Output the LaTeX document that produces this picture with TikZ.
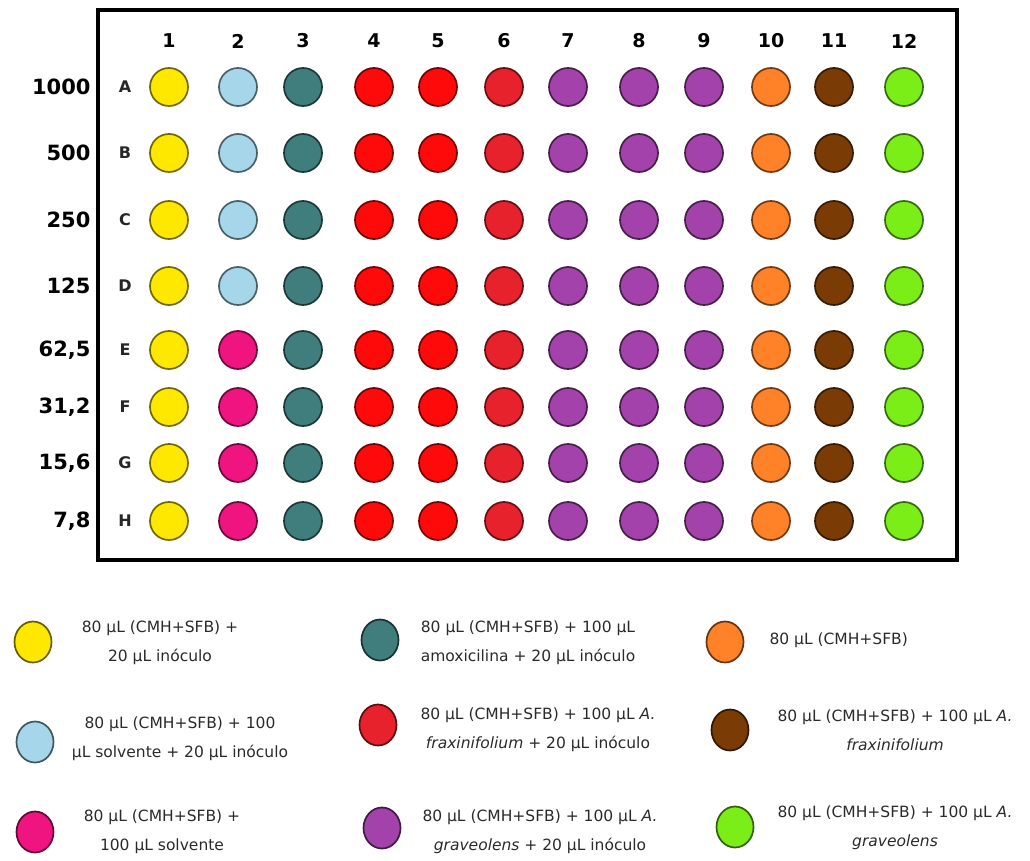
\documentclass[tikz,border=0pt]{standalone}
\usepackage{fontspec}
\setmainfont{DejaVu Sans}
\usetikzlibrary{shapes.geometric}

\definecolor{wellyellow}{HTML}{FFE800}
\definecolor{wellsky}{HTML}{A5D6EA}
\definecolor{wellteal}{HTML}{3F7E7C}
\definecolor{wellred}{HTML}{FF0A0A}
\definecolor{wellcrimson}{HTML}{E8222C}
\definecolor{wellpurple}{HTML}{A242AA}
\definecolor{wellorange}{HTML}{FF8228}
\definecolor{wellbrown}{HTML}{7B3B05}
\definecolor{welllime}{HTML}{7BEE18}
\definecolor{wellpink}{HTML}{F01480}
\definecolor{keyink}{HTML}{2A2A2A}

\begin{document}
\begin{tikzpicture}[x=1pt, y=-1pt,
	well/.style={circle, draw=#1!45!black, fill=#1, line width=1.7pt, minimum size=38pt, inner sep=0pt},
	key/.style={ellipse, draw=#1!40!black, fill=#1, line width=1.7pt, minimum width=37pt, minimum height=41pt, inner sep=0pt},
	keytext/.style={align=center, text=keyink, font=\fontsize{15.5}{29}\selectfont},
	collab/.style={font=\fontsize{19}{19}\bfseries},
	rowlab/.style={font=\fontsize{16}{16}\bfseries, text=black!85},
	conclab/.style={anchor=east, font=\fontsize{21}{21}\bfseries}]
	\useasboundingbox (0,0) rectangle (1030,861);
	% plate
	\draw[line width=3.5pt] (98,10) rectangle (957,560);
	\foreach \c/\x/\clr in {1/169/wellyellow, 2/238/wellsky, 3/303/wellteal, 4/374/wellred, 5/438/wellred, 6/504/wellcrimson,
		7/568/wellpurple, 8/639/wellpurple, 9/704/wellpurple, 10/771/wellorange, 11/834/wellbrown, 12/904/welllime} {
		\node[collab] (col-\c) at (\x,41) {\c};
		\foreach \r/\y/\alt in {A/87/wellsky, B/153/wellsky, C/220/wellsky, D/286/wellsky,
			E/350/wellpink, F/407/wellpink, G/463/wellpink, H/521/wellpink} {
			\ifnum\c=2 \edef\fillc{\alt}\else\edef\fillc{\clr}\fi
			\node[well=\fillc] (w-\r-\c) at (\x,\y) {};
		}
	}
	\foreach \r/\y/\conc in {A/87/1000, B/153/500, C/220/250, D/286/125,
		E/350/{62,5}, F/407/{31,2}, G/463/{15,6}, H/521/{7,8}} {
		\node[rowlab] (row-\r) at (125,\y) {\r};
		\node[conclab] (conc-\r) at (94,\y) {\conc};
	}
	% legend
	\node[key=wellyellow] (key-1) at (33,642) {};
	\node[keytext] (txt-1) at (160,643) {80 µL (CMH+SFB) +\\ 20 µL inóculo};
	\node[key=wellsky] (key-2) at (35,742) {};
	\node[keytext] (txt-2) at (180,739) {80 µL (CMH+SFB) + 100\\ µL solvente + 20 µL inóculo};
	\node[key=wellpink] (key-3) at (35,832) {};
	\node[keytext] (txt-3) at (162,832) {80 µL (CMH+SFB) +\\ 100 µL solvente};
	\node[key=wellteal] (key-4) at (380,640) {};
	\node[keytext] (txt-4) at (528,643) {80 µL (CMH+SFB) + 100 µL\\ amoxicilina + 20 µL inóculo};
	\node[key=wellcrimson] (key-5) at (378,725) {};
	\node[keytext] (txt-5) at (538,730) {80 µL (CMH+SFB) + 100 µL \textit{A.}\\ \textit{fraxinifolium} + 20 µL inóculo};
	\node[key=wellpurple] (key-6) at (382,828) {};
	\node[keytext] (txt-6) at (540,832) {80 µL (CMH+SFB) + 100 µL \textit{A.}\\ \textit{graveolens} + 20 µL inóculo};
	\node[key=wellorange] (key-7) at (725,642) {};
	\node[keytext, anchor=west] (txt-7) at (766,640) {80 µL (CMH+SFB)};
	\node[key=wellbrown] (key-8) at (730,730) {};
	\node[keytext] (txt-8) at (895,730) {80 µL (CMH+SFB) + 100 µL \textit{A.}\\ \textit{fraxinifolium}};
	\node[key=welllime] (key-9) at (735,827) {};
	\node[keytext] (txt-9) at (895,828) {80 µL (CMH+SFB) + 100 µL \textit{A.}\\ \textit{graveolens}};
\end{tikzpicture}
\end{document}
